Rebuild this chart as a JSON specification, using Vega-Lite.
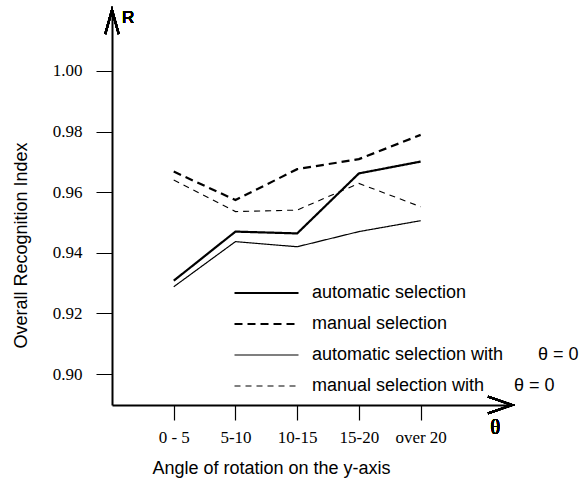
{
  "$schema": "https://vega.github.io/schema/vega-lite/v6.json",
  "width": 400,
  "height": 395,
  "autosize": "none",
  "padding": {"left": 112, "top": 10, "right": 76, "bottom": 74},
  "background": "white",
  "config": {"view": {"stroke": null}},
  "data": {
    "values": [
      {"k": 1, "angle": "0 - 5", "series": "automatic selection", "value": 0.9308},
      {"k": 2, "angle": "5-10", "series": "automatic selection", "value": 0.9470},
      {"k": 3, "angle": "10-15", "series": "automatic selection", "value": 0.9464},
      {"k": 4, "angle": "15-20", "series": "automatic selection", "value": 0.9662},
      {"k": 5, "angle": "over 20", "series": "automatic selection", "value": 0.9701},
      {"k": 1, "angle": "0 - 5", "series": "manual selection", "value": 0.9668},
      {"k": 2, "angle": "5-10", "series": "manual selection", "value": 0.9574},
      {"k": 3, "angle": "10-15", "series": "manual selection", "value": 0.9676},
      {"k": 4, "angle": "15-20", "series": "manual selection", "value": 0.9709},
      {"k": 5, "angle": "over 20", "series": "manual selection", "value": 0.9789},
      {"k": 1, "angle": "0 - 5", "series": "automatic selection with θ = 0", "value": 0.9288},
      {"k": 2, "angle": "5-10", "series": "automatic selection with θ = 0", "value": 0.9437},
      {"k": 3, "angle": "10-15", "series": "automatic selection with θ = 0", "value": 0.9420},
      {"k": 4, "angle": "15-20", "series": "automatic selection with θ = 0", "value": 0.9470},
      {"k": 5, "angle": "over 20", "series": "automatic selection with θ = 0", "value": 0.9506},
      {"k": 1, "angle": "0 - 5", "series": "manual selection with θ = 0", "value": 0.9640},
      {"k": 2, "angle": "5-10", "series": "manual selection with θ = 0", "value": 0.9536},
      {"k": 3, "angle": "10-15", "series": "manual selection with θ = 0", "value": 0.9541},
      {"k": 4, "angle": "15-20", "series": "manual selection with θ = 0", "value": 0.9629},
      {"k": 5, "angle": "over 20", "series": "manual selection with θ = 0", "value": 0.9552}
    ]
  },
  "layer": [
    {
      "mark": {"type": "line", "color": "black"},
      "encoding": {
        "x": {
          "field": "k", "type": "quantitative",
          "scale": {"domain": [0, 6.48], "nice": false, "zero": false},
          "axis": {
            "values": [1, 2, 3, 4, 5],
            "labelExpr": "['', '0 - 5', '5-10', '10-15', '15-20', 'over 20'][datum.value]",
            "grid": false,
            "domainColor": "black", "domainWidth": 2,
            "tickColor": "black", "tickWidth": 1.2, "tickSize": 15,
            "labelFont": "Liberation Serif", "labelFontSize": 17, "labelColor": "black",
            "labelPadding": 9, "labelOverlap": false, "labelBound": false, "labelFlush": false,
            "title": "Angle of rotation on the y-axis",
            "titleFont": "Liberation Sans", "titleFontSize": 18, "titleFontWeight": "normal", "titleColor": "black",
            "titleX": 159, "titleY": 68, "titleAlign": "center", "titleBaseline": "alphabetic"
          }
        },
        "y": {
          "field": "value", "type": "quantitative",
          "scale": {"domain": [0.8898, 1.0201], "nice": false, "zero": false},
          "axis": {
            "values": [0.9, 0.92, 0.94, 0.96, 0.98, 1.0],
            "format": ".2f",
            "grid": false,
            "domainColor": "black", "domainWidth": 2,
            "tickColor": "black", "tickWidth": 1, "tickSize": 16,
            "labelFont": "Liberation Serif", "labelFontSize": 17, "labelColor": "black",
            "labelPadding": 14, "labelOverlap": false, "labelBound": false,
            "title": "Overall Recognition Index",
            "titleFont": "Liberation Sans", "titleFontSize": 18, "titleFontWeight": "normal", "titleColor": "black",
            "titleX": -91, "titleY": 235, "titleAngle": 270, "titleAlign": "center", "titleBaseline": "middle"
          }
        },
        "strokeDash": {
          "field": "series", "type": "nominal",
          "scale": {
            "domain": ["automatic selection", "manual selection", "automatic selection with θ = 0", "manual selection with θ = 0"],
            "range": [[1, 0], [8, 5], [1, 0], [6, 5]]
          },
          "legend": {
            "orient": "none", "legendX": 121, "legendY": 273,
            "title": null, "padding": 0,
            "symbolType": "stroke", "symbolSize": 4096, "symbolStrokeColor": "black",
            "clipHeight": 20, "rowPadding": 11,
            "labelFont": "Liberation Sans", "labelFontSize": 18, "labelColor": "black",
            "labelOffset": 12, "labelLimit": 0,
            "labelExpr": "datum.label == 'automatic selection with θ = 0' ? 'automatic selection with\u00a0\u00a0\u00a0\u00a0\u00a0\u00a0\u00a0θ = 0' : datum.label == 'manual selection with θ = 0' ? 'manual selection with\u00a0\u00a0\u00a0\u00a0\u00a0\u00a0θ = 0' : datum.label"
          }
        },
        "strokeWidth": {
          "field": "series", "type": "nominal",
          "scale": {
            "type": "ordinal",
            "domain": ["automatic selection", "manual selection", "automatic selection with θ = 0", "manual selection with θ = 0"],
            "range": [2.2, 2.2, 1.2, 1.1]
          },
          "legend": {
            "orient": "none", "legendX": 121, "legendY": 273,
            "title": null, "padding": 0,
            "symbolType": "stroke", "symbolSize": 4096, "symbolStrokeColor": "black",
            "clipHeight": 20, "rowPadding": 11,
            "labelFont": "Liberation Sans", "labelFontSize": 18, "labelColor": "black",
            "labelOffset": 12, "labelLimit": 0,
            "labelExpr": "datum.label == 'automatic selection with θ = 0' ? 'automatic selection with\u00a0\u00a0\u00a0\u00a0\u00a0\u00a0\u00a0θ = 0' : datum.label == 'manual selection with θ = 0' ? 'manual selection with\u00a0\u00a0\u00a0\u00a0\u00a0\u00a0θ = 0' : datum.label"
          }
        }
      }
    },
    {
      "mark": {"type": "point", "shape": "M-2,-0.7L0,0L-2,0.7", "size": 576, "filled": false, "stroke": "black", "strokeWidth": 2, "opacity": 1, "strokeJoin": "miter"},
      "encoding": {"x": {"datum": 6.48}, "y": {"datum": 0.8898}}
    },
    {
      "mark": {"type": "point", "shape": "M-0.56,2L0,0L0.56,2", "size": 576, "filled": false, "stroke": "black", "strokeWidth": 2, "opacity": 1, "strokeJoin": "miter"},
      "encoding": {"x": {"datum": 0}, "y": {"datum": 1.0201}}
    },
    {
      "mark": {"type": "text", "text": "R", "font": "Liberation Sans", "fontSize": 17, "fontWeight": "normal", "fill": "black", "strokeOpacity": 0, "strokeWidth": 0, "align": "center", "baseline": "middle"},
      "encoding": {"x": {"datum": 0.26}, "y": {"datum": 1.0175}}
    },
    {
      "mark": {"type": "text", "text": "θ", "font": "Liberation Serif", "fontSize": 20, "fontWeight": "normal", "fill": "black", "strokeOpacity": 0, "strokeWidth": 0, "align": "center", "baseline": "middle"},
      "encoding": {"x": {"datum": 6.21}, "y": {"datum": 0.8822}}
    }
  ]
}
